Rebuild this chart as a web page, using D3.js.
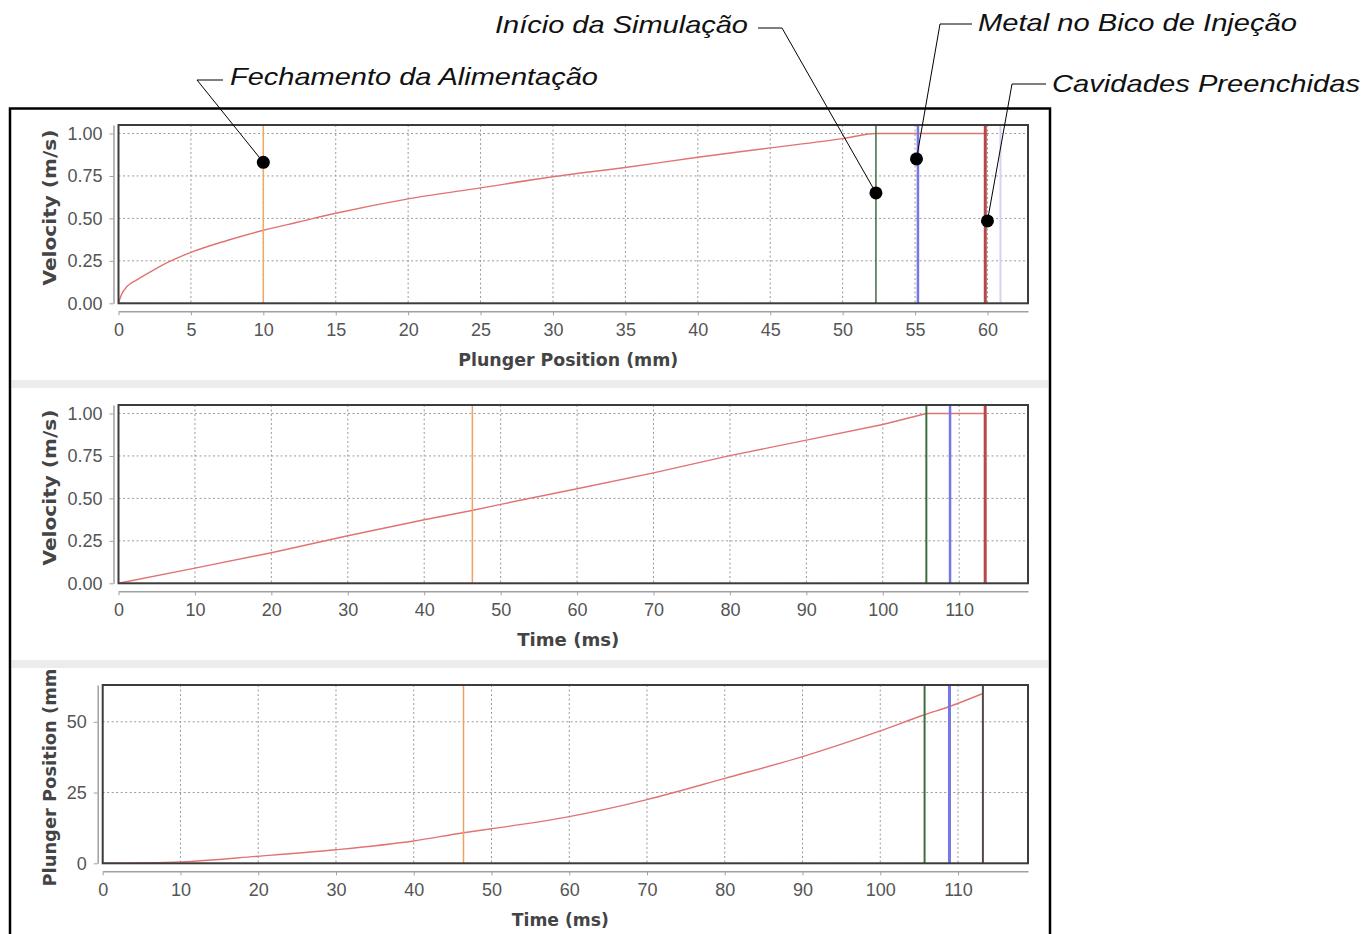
<!DOCTYPE html>
<html>
<head>
<meta charset="utf-8">
<script src="https://cdn.jsdelivr.net/npm/d3@7"></script>
<style>
  body { margin: 0; background: #fff; }
  svg { display: block; }
</style>
</head>
<body>
<script>
// plunger position (mm) vs velocity (m/s)
var posMm     = [0, 0.2, 0.6, 1.2, 2.2, 3.5, 5, 7.5, 10, 12.5, 15, 20, 25, 30, 35, 40, 45, 50, 52.3, 60];
var velByPos  = [0, 0.05, 0.1, 0.135, 0.185, 0.245, 0.3, 0.37, 0.43, 0.48, 0.53, 0.615, 0.68, 0.745, 0.8, 0.86, 0.915, 0.97, 1.0, 1.0];

// time (ms) vs velocity (m/s)
var timeMs    = [0, 10, 20, 30, 40, 46.4, 50, 60, 70, 80, 90, 100, 105.7, 113.4];
var velByTime = [0, 0.089, 0.18, 0.28, 0.374, 0.43, 0.465, 0.557, 0.65, 0.752, 0.843, 0.935, 1.0, 1.0];

// time (ms) vs plunger position (mm)
var timePos    = [0, 10, 20, 30, 40, 46.4, 50, 60, 70, 80, 90, 100, 105.7, 108.9, 113.2];
var plungerPos = [0, 0.5, 2.5, 4.8, 7.9, 10.8, 12.2, 16.5, 22.5, 30, 37.7, 46.8, 52.5, 55.4, 60];

var xTicksPos  = [0, 5, 10, 15, 20, 25, 30, 35, 40, 45, 50, 55, 60];
var xTicksTime = [0, 10, 20, 30, 40, 50, 60, 70, 80, 90, 100, 110];
var yTicksVel  = [0, 0.25, 0.5, 0.75, 1.0];
var yTicksPos  = [0, 25, 50];

// event markers
var eventsPos   = [10, 52.3, 55.2, 59.85, 60.9];
var eventsTime  = [46.3, 105.7, 108.8, 113.4];
var eventsTime3 = [46.4, 105.7, 108.9, 113.2];

// callouts (on the top chart, plunger position / velocity)
var calloutText = ["Fechamento da Alimentação", "Início da Simulação", "Metal no Bico de Injeção", "Cavidades Preenchidas"];
var calloutPos  = [10, 52.3, 55.1, 60];
var calloutVel  = [0.83, 0.65, 0.85, 0.485];

var W = 1367, H = 934;
var svg = d3.select("body").append("svg").attr("width", W).attr("height", H);
svg.append("rect").attr("width", W).attr("height", H).attr("fill", "#fff");

var plotH = 178.3, plotRight = 1028;

function panel(o) {
  var bottom = o.top + plotH;
  var x = d3.scaleLinear().domain(o.xDom).range([o.left, plotRight]);
  var y = d3.scaleLinear().domain(o.yDom).range([bottom, o.top]);
  var g = svg.append("g");

  g.append("clipPath").attr("id", o.id)
    .append("rect").attr("x", o.left).attr("y", o.top)
    .attr("width", plotRight - o.left).attr("height", plotH);

  var inner = g.append("g").attr("clip-path", "url(#" + o.id + ")");

  // grid
  inner.selectAll(".vg").data(o.xTicks).enter().append("line")
    .attr("x1", d => x(d)).attr("x2", d => x(d))
    .attr("y1", o.top).attr("y2", bottom)
    .attr("stroke", "#9a9a9a").attr("stroke-dasharray", "2,2.5");
  inner.selectAll(".hg").data(o.yTicks).enter().append("line")
    .attr("x1", o.left).attr("x2", plotRight)
    .attr("y1", d => y(d)).attr("y2", d => y(d))
    .attr("stroke", "#9a9a9a").attr("stroke-dasharray", "2,2.5");

  // series
  var pts = o.xs.map((v, i) => [v, o.ys[i]]);
  inner.append("path").datum(pts)
    .attr("d", d3.line().curve(o.curve).x(d => x(d[0])).y(d => y(d[1])))
    .attr("fill", "none").attr("stroke", "#e07474").attr("stroke-width", 1.4);

  // event lines
  inner.selectAll(".ev").data(o.events).enter().append("line")
    .attr("x1", d => x(d)).attr("x2", d => x(d))
    .attr("y1", o.top).attr("y2", bottom)
    .attr("stroke", (d, i) => o.evColors[i])
    .attr("stroke-width", (d, i) => o.evWidths[i]);

  // plot border
  g.append("rect").attr("x", o.left).attr("y", o.top)
    .attr("width", plotRight - o.left).attr("height", plotH)
    .attr("fill", "none").attr("stroke", "#3c3c3c").attr("stroke-width", 2);

  // axes
  var xa = g.append("g").attr("transform", "translate(0," + (bottom + 8) + ")")
    .call(d3.axisBottom(x).tickValues(o.xTicks).tickSize(4).tickSizeOuter(0).tickPadding(8));
  var ya = g.append("g").attr("transform", "translate(" + (o.left - 5) + ",0)")
    .call(d3.axisLeft(y).tickValues(o.yTicks).tickFormat(o.yFmt).tickSize(4).tickSizeOuter(0).tickPadding(7));
  [xa, ya].forEach(a => {
    a.attr("color", "#555");
    a.select(".domain").attr("stroke", "#a0a0a0").attr("stroke-width", 1.5);
    a.selectAll(".tick line").attr("stroke", "#a0a0a0");
    a.selectAll("text").attr("font-family", "'Liberation Sans', Arial, sans-serif")
      .attr("font-size", 18).attr("fill", "#555");
  });

  // titles
  g.append("text").attr("x", (o.left + plotRight) / 2 - 5).attr("y", bottom + 63)
    .attr("text-anchor", "middle").attr("font-family", "'DejaVu Sans', sans-serif")
    .attr("font-weight", "bold").attr("font-size", 17).attr("fill", "#444")
    .attr("textLength", o.xTitleLen).attr("lengthAdjust", "spacingAndGlyphs")
    .text(o.xTitle);
  g.append("text")
    .attr("transform", "translate(50," + o.yTitleC + ") rotate(-90)")
    .attr("text-anchor", "middle").attr("dy", "0.36em")
    .attr("font-family", "'DejaVu Sans', sans-serif")
    .attr("font-weight", "bold").attr("font-size", 17).attr("fill", "#444")
    .attr("textLength", o.yTitleLen).attr("lengthAdjust", "spacingAndGlyphs")
    .text(o.yTitle);

  return { x: x, y: y };
}

var f2 = d3.format(".2f"), f0 = d3.format("d");

var p1 = panel({
  id: "c1", top: 125, left: 118.5, xDom: [0, 62.8], yDom: [0, 1.05],
  xTicks: xTicksPos, yTicks: yTicksVel, yFmt: f2, curve: d3.curveMonotoneX,
  xs: posMm, ys: velByPos, events: eventsPos,
  evColors: ["#f0a862", "#3d6e3d", "#7676e6", "#b84848", "#dccff2"],
  evWidths: [1.5, 1.5, 2.5, 3, 2],
  xTitle: "Plunger Position (mm)", xTitleLen: 220,
  yTitle: "Velocity (m/s)", yTitleC: 207.5, yTitleLen: 156
});

panel({
  id: "c2", top: 405, left: 118.5, xDom: [0, 119], yDom: [0, 1.05],
  xTicks: xTicksTime, yTicks: yTicksVel, yFmt: f2, curve: d3.curveLinear,
  xs: timeMs, ys: velByTime, events: eventsTime,
  evColors: ["#f0a060", "#3d6e3d", "#7676e6", "#b84848"],
  evWidths: [1.5, 2, 2.5, 3],
  xTitle: "Time (ms)", xTitleLen: 102,
  yTitle: "Velocity (m/s)", yTitleC: 487.5, yTitleLen: 156
});

panel({
  id: "c3", top: 685, left: 102.7, xDom: [0, 119], yDom: [0, 63],
  xTicks: xTicksTime, yTicks: yTicksPos, yFmt: f0, curve: d3.curveMonotoneX,
  xs: timePos, ys: plungerPos, events: eventsTime3,
  evColors: ["#f0a060", "#3d6e3d", "#7676e6", "#5a4646"],
  evWidths: [1.5, 2, 3, 2],
  xTitle: "Time (ms)", xTitleLen: 97,
  yTitle: "Plunger Position (mm)", yTitleC: 773.5, yTitleLen: 226
});

// separator bands between the charts
[380, 660].forEach(yy => {
  svg.append("rect").attr("x", 12).attr("y", yy).attr("width", 1036).attr("height", 8)
    .attr("fill", "#ececec");
});

// outer frame
svg.append("rect").attr("x", 10).attr("y", 108.5).attr("width", 1040).attr("height", 900)
  .attr("fill", "none").attr("stroke", "#000").attr("stroke-width", 2.5);

// callouts: label layout (text start, baseline, width, elbow point, elbow end)
var calloutLayout = [
  { tx: 230, ty: 85, len: 368, ex: 197, ey: 80, hx: 223 },
  { tx: 495, ty: 33, len: 253, ex: 782, ey: 28, hx: 758 },
  { tx: 978, ty: 31, len: 319, ex: 940, ey: 24, hx: 972 },
  { tx: 1052, ty: 92, len: 308, ex: 1012, ey: 84, hx: 1046 }
];

calloutText.forEach((t, i) => {
  var L = calloutLayout[i];
  var dx = p1.x(calloutPos[i]), dy = p1.y(calloutVel[i]);
  svg.append("polyline")
    .attr("points", [[L.hx, L.ey], [L.ex, L.ey], [dx, dy]].map(p => p.join(",")).join(" "))
    .attr("fill", "none").attr("stroke", "#000").attr("stroke-width", 1);
  svg.append("circle").attr("cx", dx).attr("cy", dy).attr("r", 6.5).attr("fill", "#000");
  svg.append("text").attr("x", L.tx).attr("y", L.ty)
    .attr("font-family", "'Liberation Sans', Arial, sans-serif")
    .attr("font-style", "italic").attr("font-size", 24).attr("fill", "#111")
    .attr("textLength", L.len).attr("lengthAdjust", "spacingAndGlyphs")
    .text(t);
});
</script>
</body>
</html>
